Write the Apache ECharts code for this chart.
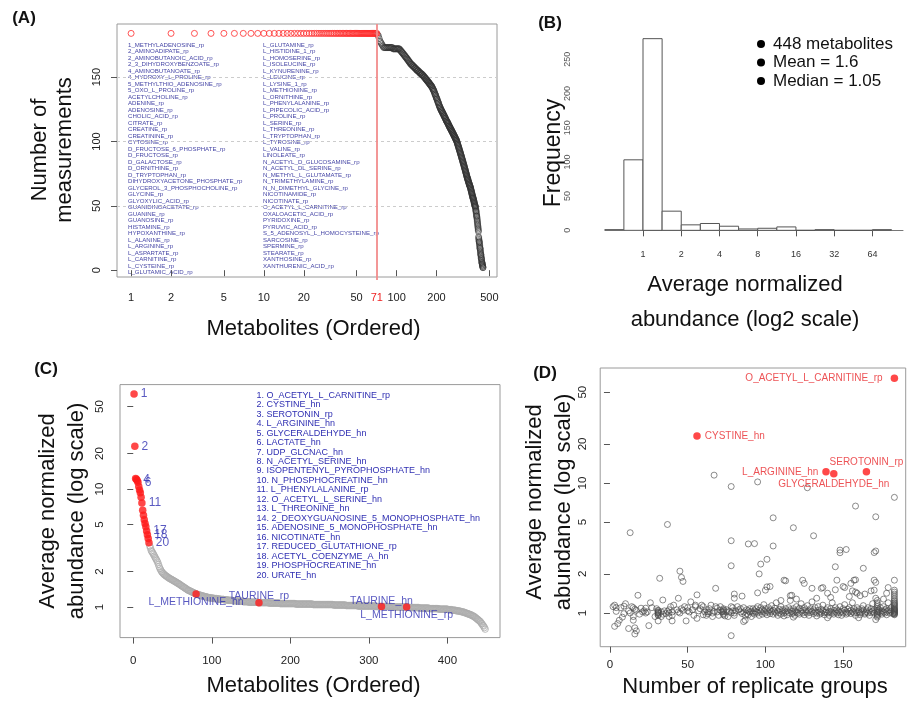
<!DOCTYPE html>
<html><head><meta charset="utf-8">
<script src="https://cdn.jsdelivr.net/npm/echarts@6/dist/echarts.min.js"></script>
<style>html,body{margin:0;padding:0;background:#fff;}#c{width:915px;height:702px;}</style>
</head><body><div id="c"></div>
<script>
// ---------- Panel A data ----------
const aListLeft = ['1_METHYLADENOSINE_rp','2_AMINOADIPATE_rp','2_AMINOBUTANOIC_ACID_rp','2_3_DIHYDROXYBENZOATE_rp','4_AMINOBUTANOATE_rp','4_HYDROXY_L_PROLINE_rp','5_METHYLTHIO_ADENOSINE_rp','5_OXO_L_PROLINE_rp','ACETYLCHOLINE_rp','ADENINE_rp','ADENOSINE_rp','CHOLIC_ACID_rp','CITRATE_rp','CREATINE_rp','CREATININE_rp','CYTOSINE_rp','D_FRUCTOSE_6_PHOSPHATE_rp','D_FRUCTOSE_rp','D_GALACTOSE_rp','D_ORNITHINE_rp','D_TRYPTOPHAN_rp','DIHYDROXYACETONE_PHOSPHATE_rp','GLYCEROL_3_PHOSPHOCHOLINE_rp','GLYCINE_rp','GLYOXYLIC_ACID_rp','GUANIDINOACETATE_rp','GUANINE_rp','GUANOSINE_rp','HISTAMINE_rp','HYPOXANTHINE_rp','L_ALANINE_rp','L_ARGININE_rp','L_ASPARTATE_rp','L_CARNITINE_rp','L_CYSTEINE_rp','L_GLUTAMIC_ACID_rp'];
const aListRight = ['L_GLUTAMINE_rp','L_HISTIDINE_1_rp','L_HOMOSERINE_rp','L_ISOLEUCINE_rp','L_KYNURENINE_rp','L_LEUCINE_rp','L_LYSINE_1_rp','L_METHIONINE_rp','L_ORNITHINE_rp','L_PHENYLALANINE_rp','L_PIPECOLIC_ACID_rp','L_PROLINE_rp','L_SERINE_rp','L_THREONINE_rp','L_TRYPTOPHAN_rp','L_TYROSINE_rp','L_VALINE_rp','LINOLEATE_rp','N_ACETYL_D_GLUCOSAMINE_rp','N_ACETYL_DL_SERINE_rp','N_METHYL_L_GLUTAMATE_rp','N_TRIMETHYLAMINE_rp','N_N_DIMETHYL_GLYCINE_rp','NICOTINAMIDE_rp','NICOTINATE_rp','O_ACETYL_L_CARNITINE_rp','OXALOACETIC_ACID_rp','PYRIDOXINE_rp','PYRUVIC_ACID_rp','S_5_ADENOSYL_L_HOMOCYSTEINE_rp','SARCOSINE_rp','SPERMINE_rp','STEARATE_rp','XANTHOSINE_rp','XANTHURENIC_ACID_rp'];
const aCutoff = [71];
const measurements = [
184,184,184,184,184,184,184,184,184,184,
184,184,184,184,184,184,184,184,184,184,
184,184,184,184,184,184,184,184,184,184,
184,184,184,184,184,184,184,184,184,184,
184,184,184,184,184,184,184,184,184,184,
184,184,184,184,184,184,184,184,184,184,
184,184,184,184,184,184,184,184,184,184,
184,
183,182,180,178,177,176,175,174,
173,173,173,173,173,173,173,173,173,173,173,173,173,173,172,172,172,172,172,172,172,172,172,172,172,172,
171,171,170,170,169,169,168,168,167,167,166,166,165,165,164,164,163,163,162,162,161,161,
160,160,160,159,159,159,158,158,158,157,157,157,156,156,156,155,155,155,155,154,154,154,153,153,153,153,152,152,152,152,151,151,151,
150,150,150,149,149,149,148,148,148,147,147,147,146,146,146,145,145,145,144,144,144,143,143,143,142,142,
141,141,140,140,139,139,138,137,137,136,136,135,134,134,133,133,132,131,131,130,130,129,128,128,127,127,126,126,
125,125,124,124,124,123,123,122,122,122,121,121,120,120,120,119,119,118,118,118,117,117,116,116,116,115,115,115,114,114,114,113,
113,112,112,112,111,111,111,110,110,110,109,109,109,108,108,108,107,107,107,106,106,106,105,105,105,104,104,104,103,103,103,102,102,102,101,101,101,100,100,99,99,
98,98,97,97,96,96,95,95,94,94,93,93,92,92,91,91,90,90,89,89,88,88,87,87,86,86,85,85,84,84,83,83,
82,82,81,81,80,80,79,79,78,78,77,77,76,76,75,75,74,74,73,73,72,72,71,71,71,70,70,69,69,68,68,68,67,67,66,66,66,65,65,65,64,
64,63,63,62,62,61,61,60,60,59,59,58,58,57,57,56,56,56,55,55,54,54,53,53,52,52,51,51,50,50,50,49,49,
48,47,46,46,45,44,43,42,42,41,40,39,38,37,36,35,34,33,32,31,30,
26,25,24,23,22,22,21,20,19,18,17,17,16,15,14,13,12,12,11,10,9,9,8,7,6,6,5,5,4,4,3,3,2,2
];
const aXTicks = [1,2,5,10,20,50,100,200,500];
const aXLabels = [1,2,5,10,20,50,71,100,200,500];
const aYTicks = [0,50,100,150];

// ---------- Panel B data ----------
const histBreaks = [0.5,0.7071,1,1.4142,2,2.8284,4,5.6569,8,11.3137,16,22.6274,32,45.2548,64,90.5097];
const histCounts = [1,103,280,28,8,10,6,2,3,5,0,1,0,0,1];
const bXTicks = [1,2,4,8,16,32,64];
const bYTicks = [0,50,100,150,200,250];
const bLegend = ['448 metabolites','Mean = 1.6','Median = 1.05'];

// ---------- Panel C data ----------
const cAbundance = [
64,23,12.3,12.1,11.8,11.4,10.5,9.8,9.3,8.5,
7.6,6.6,6.0,5.5,5.1,4.8,4.4,4.1,3.8,3.5,
3.3,3.15,3.0,2.93,2.86,2.78,2.7,2.62,2.55,2.48,
2.4,2.3,2.2,2.12,2.06,2.0,1.96,1.93,1.9,1.87,
1.85,1.83,1.81,1.79,1.77,1.75,1.74,1.72,1.71,1.69,
1.68,1.66,1.65,1.63,1.62,1.6,1.59,1.57,1.56,1.54,
1.52,1.51,1.49,1.48,1.46,1.45,1.43,1.42,1.4,1.39,
1.38,1.37,1.36,1.35,1.34,1.33,1.32,1.31,1.3,1.29,
1.28,1.28,1.27,1.27,1.26,1.25,1.25,1.24,1.24,1.23,
1.23,1.22,1.22,1.21,1.21,1.2,1.2,1.2,1.19,1.19,
1.19,1.19,1.18,1.18,1.18,1.18,1.17,1.17,1.17,1.17,
1.16,1.16,1.16,1.16,1.16,1.15,1.15,1.15,1.15,1.15,
1.14,1.14,1.14,1.14,1.14,1.14,1.13,1.13,1.13,1.13,
1.13,1.13,1.12,1.12,1.12,1.12,1.12,1.12,1.12,1.11,
1.11,1.11,1.11,1.11,1.11,1.11,1.10,1.10,1.10,1.10,
1.10,1.10,1.10,1.10,1.10,1.10,1.10,1.10,1.09,1.09,
1.09,1.09,1.09,1.09,1.09,1.09,1.09,1.09,1.09,1.09,
1.09,1.09,1.08,1.08,1.08,1.08,1.08,1.08,1.08,1.08,
1.08,1.08,1.08,1.08,1.08,1.08,1.07,1.07,1.07,1.07,
1.07,1.07,1.07,1.07,1.07,1.07,1.07,1.07,1.07,1.07,
1.07,1.07,1.07,1.07,1.07,1.07,1.06,1.06,1.06,1.06,
1.06,1.06,1.06,1.06,1.06,1.06,1.06,1.06,1.06,1.06,
1.06,1.06,1.06,1.06,1.06,1.06,1.06,1.06,1.05,1.05,
1.05,1.05,1.05,1.05,1.05,1.05,1.05,1.05,1.05,1.05,
1.05,1.05,1.05,1.05,1.05,1.05,1.05,1.05,1.05,1.05,
1.05,1.05,1.05,1.05,1.04,1.04,1.04,1.04,1.04,1.04,
1.04,1.04,1.04,1.04,1.04,1.04,1.04,1.04,1.04,1.04,
1.03,1.03,1.03,1.03,1.03,1.03,1.03,1.03,1.03,1.03,
1.03,1.03,1.03,1.03,1.03,1.02,1.02,1.02,1.02,1.02,
1.02,1.02,1.02,1.02,1.02,1.02,1.02,1.02,1.02,1.02,
1.02,1.02,1.02,1.02,1.02,1.02,1.02,1.02,1.01,1.01,
1.01,1.01,1.01,1.01,1.01,1.01,1.01,1.01,1.01,1.01,
1.01,1.01,1.01,1.01,1.01,1.01,1.01,1.01,1.01,1.00,
1.00,1.00,1.00,1.00,1.00,1.00,1.00,1.00,1.00,1.00,
1.00,1.00,1.00,1.00,1.00,1.00,1.00,1.00,1.00,1.00,
0.99,0.99,0.99,0.99,0.99,0.99,0.99,0.99,0.99,0.99,
0.99,0.99,0.99,0.98,0.98,0.98,0.98,0.98,0.98,0.98,
0.98,0.98,0.98,0.98,0.98,0.98,0.97,0.97,0.97,0.97,
0.97,0.97,0.97,0.97,0.97,0.97,0.97,0.97,0.96,0.96,
0.96,0.96,0.96,0.96,0.96,0.96,0.96,0.96,0.96,0.96,
0.95,0.95,0.95,0.95,0.95,0.94,0.94,0.94,0.94,0.94,
0.93,0.93,0.93,0.93,0.92,0.92,0.92,0.91,0.91,0.91,
0.90,0.90,0.89,0.89,0.88,0.88,0.87,0.87,0.86,0.86,
0.85,0.84,0.84,0.83,0.82,0.81,0.80,0.79,0.78,0.77,
0.76,0.75,0.73,0.72,0.70,0.69,0.67,0.65
];
const cTopNames = ['O_ACETYL_L_CARNITINE_rp','CYSTINE_hn','SEROTONIN_rp','L_ARGININE_hn','GLYCERALDEHYDE_hn','LACTATE_hn','UDP_GLCNAC_hn','N_ACETYL_SERINE_hn','ISOPENTENYL_PYROPHOSPHATE_hn','N_PHOSPHOCREATINE_hn','L_PHENYLALANINE_rp','O_ACETYL_L_SERINE_hn','L_THREONINE_hn','2_DEOXYGUANOSINE_5_MONOPHOSPHATE_hn','ADENOSINE_5_MONOPHOSPHATE_hn','NICOTINATE_hn','REDUCED_GLUTATHIONE_rp','ACETYL_COENZYME_A_hn','PHOSPHOCREATINE_hn','URATE_hn'];
const cNumberLabelRanks = [1,2,4,6,11,17,18,20];
const cMarkRanks = [80,160,316,348];
const cMarkNames = ['L_METHIONINE_hn','TAURINE_rp','TAURINE_hn','L_METHIONINE_rp'];
const cXTicks = [0,100,200,300,400];
const logTicks = [1,2,5,10,20,50];

// ---------- Panel D data ----------
const dRedPoints = [[183,64],[56,23],[165,12.2],[139,12.2],[144,11.8]];
const dRedNames = ['O_ACETYL_L_CARNITINE_rp','CYSTINE_hn','SEROTONIN_rp','L_ARGININE_hn','GLYCERALDEHYDE_hn'];
const dPoints = [
[13,4.15],[37,4.8],[32,1.85],[45,2.1],[46,1.88],[47,1.75],[78,9.4],[78,3.6],[78,2.31],[89,3.4],[93,3.42],[68,1.55],[18,1.37],[34,1.26],[44,1.3],[56,1.38],[80,1.4],[80,1.3],[85,1.35],[67,11.5],
[95,10.2],[105,5.4],[105,3.28],[97,2.38],[101,2.59],[96,2.0],[95,1.43],[100,1.5],[101,1.59],[103,1.6],[112,1.79],[118,4.53],[124,1.79],[125,1.69],[127,9.2],[131,3.93],[130,1.55],[137,1.57],[142,1.32],[145,2.27],
[146,1.79],[148,3.05],[148,2.91],[152,3.08],[145,1.51],[151,1.57],[154,1.34],[155,1.69],[157,1.79],[158,6.65],[158,1.8],[158,1.45],[163,2.21],[161,1.36],[164,1.4],[171,5.5],[171,3.0],[170,2.92],[170,1.79],[171,1.72],
[170,1.5],[171,1.3],[179,1.57],[183,7.76],[183,1.79],[168,1.48],[178,1.42],[159,1.42],[156,1.48],[150,1.6],[140,1.42],[136,1.55],[117,1.37],[116,1.36],[113,1.77],[26,1.2],[52,1.22],[110,1.25],[120,1.28],[133,1.3],[176,1.28],
[3,0.79],[5,0.83],[6,0.88],[8,0.93],[12,0.76],[15,0.94],[15,0.88],[16,0.77],[17,0.73],[16,0.69],[25,0.8],[31,0.87],[33,0.94],[40,0.87],[49,0.87],[66,0.94],[78,0.67],[86,0.86],[87,0.88],[89,0.97],[91,0.94],[171,0.89],[140,0.92],[118,0.93],[160,0.92],
[2,1.12],[4,1.1],[4,1.03],[9,1.13],[9,0.99],[12,1.04],[15,1.1],[16,1.07],[17,1.05],[20,1.09],[21,1.02],[22,1.04],[23,1.09],[24,1.02],
[29,0.94],[31,1.02],[31,0.99],[31,0.96],[31,1.0],[31,1.01],[31,1.04],[31,0.97],[31,1.05],[33,1.02],[35,1.04],[36,0.99],[38,0.94],[40,1.02],[40,0.96],[41,1.15],[44,1.02],[46,1.08],[47,1.05],[48,1.12],[50,1.1],[50,1.04],[54,0.96],[55,1.15],[55,1.12],[56,0.91],[58,1.08],
[59,1.15],[60,1.12],[61,1.02],[62,0.96],[63,1.02],[63,0.99],[64,1.02],[65,1.15],[66,1.0],[68,1.12],[69,1.02],[70,0.96],[71,1.05],[72,1.02],[73,1.06],[73,1.02],[73,0.99],[74,0.95],[75,1.02],[76,0.94],[78,1.12],[79,1.04],[80,1.0],[80,0.96],[81,1.04],[83,1.06],[84,1.02],[85,0.99],[86,1.02],[87,0.96],[88,1.06],[89,1.04],[90,1.08],[91,1.03],[92,1.08],
[3,1.15],[7,1.1],[10,1.18],[13,1.0],[14,1.12],[19,0.98],[23,1.0],[27,1.1],[30,1.08],[34,0.98],[37,1.03],[38,1.06],[38,1.0],[39,1.12],[43,1.06],[45,1.0],[51,1.02],[53,1.06],[57,1.04],[60,0.97],[62,1.06],[64,1.08],[67,1.03],[69,1.09],[71,1.12],[73,1.04],[73,1.08],[73,0.97],[75,1.06],[77,1.03],[78,1.0],[79,1.1],[82,1.12],[84,1.08],[86,1.1],[88,0.99],[90,1.02],[92,1.0],
[93,1.04],[93,0.98],[94,1.08],[94,1.02],[95,1.0],[95,1.12],[96,0.96],[96,1.05],[97,1.02],[97,1.1],[98,0.98],[98,1.06],[99,1.03],[99,1.16],[100,1.0],[100,1.08],[101,0.97],[101,1.04],[102,1.1],[102,1.02],[103,0.99],[103,1.06],[104,1.03],[104,1.14],[105,0.98],[105,1.05],
[106,1.02],[106,1.09],[107,1.0],[107,1.2],[108,0.96],[108,1.04],[109,1.07],[109,1.01],[110,0.98],[110,1.12],[111,1.03],[111,1.06],[112,1.0],[112,0.95],[113,1.08],[113,1.02],[114,1.04],[114,0.97],[115,1.1],[115,1.01],[116,1.06],[116,1.25],[117,0.99],[117,1.03],[118,1.08],[118,1.0],
[119,1.04],[119,0.96],[120,1.12],[120,1.02],[121,1.0],[121,1.06],[122,1.09],[122,0.98],[123,1.03],[123,1.18],[124,1.0],[124,1.05],[125,1.1],[125,0.97],[126,1.02],[126,1.06],[127,1.0],[127,1.14],[128,1.04],[128,0.96],[129,1.08],[129,1.01],[130,1.03],[130,1.22],[131,0.99],[131,1.06],
[132,1.02],[132,1.1],[133,1.0],[133,0.95],[134,1.05],[134,1.12],[135,1.02],[135,0.98],[136,1.07],[136,1.0],[137,1.04],[137,1.15],[138,1.01],[138,0.97],[139,1.06],[139,1.02],[140,1.1],[140,1.0],[141,1.03],[141,0.96],[142,1.08],[142,1.02],[143,1.0],[143,1.2],[144,1.05],[144,0.98],
[145,1.02],[145,1.1],[146,1.0],[146,1.06],[147,0.97],[147,1.04],[148,1.12],[148,1.01],[149,1.03],[149,0.96],[150,1.08],[150,1.0],[151,1.05],[151,1.16],[152,1.02],[152,0.98],[153,1.07],[153,1.0],[154,1.03],[154,1.1],[155,0.99],[155,1.05],[156,1.02],[156,1.2],[157,1.0],[157,1.08],
[158,1.04],[158,0.96],[159,1.1],[159,1.01],[160,1.03],[160,1.06],[161,1.0],[161,0.97],[162,1.08],[162,1.02],[163,1.05],[163,1.14],[164,1.0],[164,0.98],[165,1.06],[165,1.02],[166,1.1],[166,1.0],[167,1.04],[167,0.96],[168,1.08],[168,1.01],[169,1.03],[169,1.18],[170,1.0],[170,1.06],
[172,1.08],[172,1.05],[172,1.03],[172,1.01],[172,0.99],[172,0.97],[172,0.95],[172,0.93],[172,1.12],[172,1.16],[172,1.2],[172,1.25],
[173,1.02],[173,1.06],[174,1.0],[174,1.1],[175,0.98],[175,1.04],[176,1.02],[176,1.12],[177,1.0],[177,1.06],[178,1.08],[178,0.97],[178,1.02],[179,1.04],[179,1.2],[180,1.0],[180,1.06],[181,1.03],[181,1.1],[182,0.99],
[183,1.0],[183,1.01],[183,1.02],[183,1.03],[183,1.04],[183,1.05],[183,1.06],[183,1.07],[183,1.08],[183,1.1],[183,1.12],[183,1.14],[183,1.16],[183,1.18],[183,1.2],[183,1.23],[183,1.26],[183,1.3],[183,1.35],[183,1.4],[183,1.45],[183,1.5],[183,0.98],[183,0.99],[183,0.97]
];
const dXTicks = [0,50,100,150];

// ---------- build ----------
const FONT = '"Liberation Sans", Arial, Helvetica, sans-serif';
const BLUE = '#2f2fb2';
const CUT_COLOR = '#f28c8c';
const chart = echarts.init(document.getElementById('c'), null, {renderer:'canvas'});

const aRed = measurements.slice(0, aCutoff[0]).map((v,i)=>[i+1, v]);
const aBlack = measurements.slice(aCutoff[0]).map((v,i)=>[i+1+aCutoff[0], v]);
const histData = histCounts.map((c,i)=>[histBreaks[i], histBreaks[i+1], c]);
const cGrey = cAbundance.slice(20).map((v,i)=>[i+21, v]);
const cTop = cAbundance.slice(0,20).map((v,i)=>({
  value:[i+1, v],
  label:{show: cNumberLabelRanks.indexOf(i+1) >= 0, formatter: String(i+1)}
}));
const cMarkStyle = {
  'L_METHIONINE_hn':{position:'bottom', distance:-1},
  'TAURINE_rp':{position:'top', distance:-3},
  'TAURINE_hn':{position:'top', distance:-4},
  'L_METHIONINE_rp':{position:'bottom', distance:-1}
};
const cMarks = cMarkRanks.map((r,i)=>({
  value:[r, cAbundance[r-1]], name:cMarkNames[i],
  label:Object.assign({show:true, formatter:cMarkNames[i]}, cMarkStyle[cMarkNames[i]])
}));
const dLabelStyle = {
  'O_ACETYL_L_CARNITINE_rp':{position:'left', distance:8},
  'CYSTINE_hn':{position:'right', distance:4},
  'SEROTONIN_rp':{position:'top', distance:1},
  'L_ARGININE_hn':{position:'left', distance:4},
  'GLYCERALDEHYDE_hn':{position:'bottom', distance:2}
};
const dRed = dRedPoints.map((p,i)=>({
  value:p, name:dRedNames[i],
  label:Object.assign({show:true, formatter:dRedNames[i]}, dLabelStyle[dRedNames[i]])
}));

function tickStyle(vals, len){ return {show:true, customValues:vals, length:len||6, lineStyle:{color:'#555', width:1}}; }
function labelStyle(vals, extra){ return Object.assign({customValues:vals, fontSize:11, color:'#222', fontFamily:FONT}, extra||{}); }
const openCircle = (col, w) => ({color:'rgba(0,0,0,0)', borderColor:col, borderWidth:w});

const option = {
  animation:false,
  backgroundColor:'#ffffff',
  textStyle:{fontFamily:FONT},
  grid:[
    {left:117, top:24, width:380, height:253, show:true, borderColor:'#9a9a9a', borderWidth:1, containLabel:false, outerBoundsMode:'none'},
    {left:643, top:31, width:260, height:207, show:false, containLabel:false, outerBoundsMode:'none'},
    {left:120, top:384.6, width:380, height:253, show:true, borderColor:'#9a9a9a', borderWidth:1, containLabel:false, outerBoundsMode:'none'},
    {left:600.2, top:368, width:305.5, height:278.7, show:true, borderColor:'#9a9a9a', borderWidth:1, containLabel:false, outerBoundsMode:'none'}
  ],
  xAxis:[
    {gridIndex:0, type:'log', logBase:10, min:0.783, max:571, position:'bottom',
     axisLine:{show:false}, axisTick:tickStyle(aXTicks,6), splitLine:{show:false},
     axisLabel:labelStyle(aXLabels,{margin:15, formatter:function(v){return Math.abs(v-aCutoff[0])<0.01?'{r|'+aCutoff[0]+'}':'{n|'+Math.round(v)+'}';},
       rich:{r:{color:'#ee2222', fontSize:11, fontFamily:FONT}, n:{color:'#222', fontSize:11, fontFamily:FONT}}})},
    // second axis on the same scale: draws the cutoff (71) as a split line + short tick
    {gridIndex:0, type:'log', logBase:10, min:0.783, max:571, position:'bottom', z:3,
     axisLine:{show:false}, axisLabel:{show:false},
     axisTick:{show:true, customValues:aCutoff, length:3, lineStyle:{color:CUT_COLOR, width:1.8}},
     splitLine:{show:true, lineStyle:{color:CUT_COLOR, width:1.8, type:'solid'}}},
    {gridIndex:1, type:'log', logBase:2, min:1, max:111.43, position:'bottom',
     axisLine:{show:true, lineStyle:{color:'#777', width:1}}, axisTick:tickStyle(bXTicks,6), splitLine:{show:false},
     axisLabel:labelStyle(bXTicks,{fontSize:9, color:'#333', margin:12})},
    {gridIndex:2, type:'value', min:-16.88, max:466.88, position:'bottom',
     axisLine:{show:false}, axisTick:tickStyle(cXTicks,6), splitLine:{show:false},
     axisLabel:labelStyle(cXTicks,{fontSize:11.5, margin:17})},
    {gridIndex:3, type:'value', min:-6.28, max:190.28, position:'bottom',
     axisLine:{show:false}, axisTick:tickStyle(dXTicks,6), splitLine:{show:false},
     axisLabel:labelStyle(dXTicks,{fontSize:11.5, margin:12})}
  ],
  yAxis:[
    {gridIndex:0, type:'value', min:-5.3, max:191.3, position:'left',
     axisLine:{show:false}, axisTick:tickStyle(aYTicks,6),
     axisLabel:labelStyle(aYTicks,{rotate:90, margin:15}),
     splitLine:{show:true, lineStyle:{color:['rgba(0,0,0,0)','#cccccc','#cccccc','#cccccc'], type:[3,3], width:1}}},
    {gridIndex:1, type:'value', min:-11.2, max:291.2, position:'left', offset:66,
     axisLine:{show:false}, axisTick:{show:false, customValues:bYTicks}, splitLine:{show:false},
     axisLabel:labelStyle(bYTicks,{rotate:90, fontSize:9, color:'#555', margin:5})},
    {gridIndex:2, type:'log', logBase:10, min:0.551, max:76.7, position:'left',
     axisLine:{show:false}, axisTick:tickStyle(logTicks,6), splitLine:{show:false},
     axisLabel:labelStyle(logTicks,{rotate:90, fontSize:11.5, margin:14})},
    {gridIndex:3, type:'log', logBase:10, min:0.551, max:76.7, position:'left',
     axisLine:{show:false}, axisTick:tickStyle(logTicks,6), splitLine:{show:false},
     axisLabel:labelStyle(logTicks,{rotate:90, fontSize:11.5, margin:11})}
  ],
  series:[
    {type:'scatter', xAxisIndex:0, yAxisIndex:0, data:aBlack, symbol:'circle', symbolSize:6,
     itemStyle:openCircle('#333333',0.75), silent:true},
    {type:'scatter', xAxisIndex:0, yAxisIndex:0, data:aRed, symbol:'circle', symbolSize:6,
     itemStyle:openCircle('#ff2a2a',1), silent:true},
    {type:'custom', xAxisIndex:2, yAxisIndex:1, data:histData, encode:{x:[0,1], y:2}, clip:false, silent:true,
     renderItem:function(params, api){
       const p0 = api.coord([api.value(0), 0]);
       const p1 = api.coord([api.value(1), api.value(2)]);
       return {type:'rect', shape:{x:p0[0], y:p1[1], width:p1[0]-p0[0], height:p0[1]-p1[1]},
               style:{fill:'#ffffff', stroke:'#555555', lineWidth:1}};
     }},
    {type:'scatter', xAxisIndex:3, yAxisIndex:2, data:cGrey, symbol:'circle', symbolSize:6.5,
     itemStyle:openCircle('#adadad',1), silent:true},
    {type:'scatter', xAxisIndex:3, yAxisIndex:2, data:cTop, symbol:'circle', symbolSize:7.5,
     itemStyle:{color:'#ff1a1a'}, silent:true,
     label:{position:'right', distance:3, color:BLUE, fontSize:12, fontFamily:FONT}},
    {type:'scatter', xAxisIndex:3, yAxisIndex:2, data:cMarks, symbol:'circle', symbolSize:7.5,
     itemStyle:{color:'#ff1a1a'}, silent:true,
     label:{color:BLUE, fontSize:10.5, fontFamily:FONT}},
    {type:'scatter', xAxisIndex:4, yAxisIndex:3, data:dPoints, symbol:'circle', symbolSize:6,
     itemStyle:openCircle('#4a4a4a',0.8), silent:true},
    {type:'scatter', xAxisIndex:4, yAxisIndex:3, data:dRed, symbol:'circle', symbolSize:7.5,
     itemStyle:{color:'#ff1a1a'}, silent:true,
     label:{color:'#e8282c', fontSize:10, fontFamily:FONT}}
  ],
  graphic:[
    {type:'text', x:24, y:18, style:{text:'(A)', font:'bold 17px '+FONT, fill:'#111', textAlign:'center', textVerticalAlign:'middle'}},
    {type:'text', x:550, y:23, style:{text:'(B)', font:'bold 17px '+FONT, fill:'#111', textAlign:'center', textVerticalAlign:'middle'}},
    {type:'text', x:46, y:369, style:{text:'(C)', font:'bold 17px '+FONT, fill:'#111', textAlign:'center', textVerticalAlign:'middle'}},
    {type:'text', x:545, y:373, style:{text:'(D)', font:'bold 17px '+FONT, fill:'#111', textAlign:'center', textVerticalAlign:'middle'}},
    {type:'text', x:313.5, y:329, style:{text:'Metabolites (Ordered)', font:'22px '+FONT, fill:'#111', textAlign:'center', textVerticalAlign:'middle'}},
    {type:'text', x:52.5, y:150, rotation:Math.PI/2, style:{text:'Number of\nmeasurements', font:'22px '+FONT, lineHeight:25, fill:'#111', textAlign:'center', textVerticalAlign:'middle'}},
    {type:'text', x:554, y:153, rotation:Math.PI/2, style:{text:'Frequency', font:'23px '+FONT, fill:'#111', textAlign:'center', textVerticalAlign:'middle'}},
    {type:'text', x:745, y:302.5, style:{text:'Average normalized\nabundance (log2 scale)', font:'22px '+FONT, lineHeight:35, fill:'#111', textAlign:'center', textVerticalAlign:'middle'}},
    {type:'text', x:313.5, y:686, style:{text:'Metabolites (Ordered)', font:'22px '+FONT, fill:'#111', textAlign:'center', textVerticalAlign:'middle'}},
    {type:'text', x:62, y:511, rotation:Math.PI/2, style:{text:'Average normalized\nabundance (log scale)', font:'22px '+FONT, lineHeight:29, fill:'#111', textAlign:'center', textVerticalAlign:'middle'}},
    {type:'text', x:549, y:502, rotation:Math.PI/2, style:{text:'Average normalized\nabundance (log scale)', font:'22px '+FONT, lineHeight:29, fill:'#111', textAlign:'center', textVerticalAlign:'middle'}},
    {type:'text', x:755, y:687, style:{text:'Number of replicate groups', font:'22px '+FONT, fill:'#111', textAlign:'center', textVerticalAlign:'middle'}},
    {type:'text', x:128, y:42, style:{text:aListLeft.join('\n'), font:'6.1px '+FONT, lineHeight:6.49, fill:'#4646a6', textAlign:'left', textVerticalAlign:'top'}},
    {type:'text', x:263, y:42, style:{text:aListRight.join('\n'), font:'6.1px '+FONT, lineHeight:6.49, fill:'#4646a6', textAlign:'left', textVerticalAlign:'top'}},
    {type:'text', x:256.5, y:390.5, style:{text:cTopNames.map((n,i)=>(i+1)+'. '+n).join('\n'), font:'9px '+FONT, lineHeight:9.47, fill:BLUE, textAlign:'left', textVerticalAlign:'top'}},
    {type:'circle', shape:{cx:761, cy:44, r:4}, style:{fill:'#000'}},
    {type:'circle', shape:{cx:761, cy:62.5, r:4}, style:{fill:'#000'}},
    {type:'circle', shape:{cx:761, cy:81, r:4}, style:{fill:'#000'}},
    {type:'text', x:773, y:44, style:{text:bLegend[0], font:'17px '+FONT, fill:'#111', textAlign:'left', textVerticalAlign:'middle'}},
    {type:'text', x:773, y:62.5, style:{text:bLegend[1], font:'17px '+FONT, fill:'#111', textAlign:'left', textVerticalAlign:'middle'}},
    {type:'text', x:773, y:81, style:{text:bLegend[2], font:'17px '+FONT, fill:'#111', textAlign:'left', textVerticalAlign:'middle'}}
  ]
};
chart.setOption(option);
</script></body></html>
